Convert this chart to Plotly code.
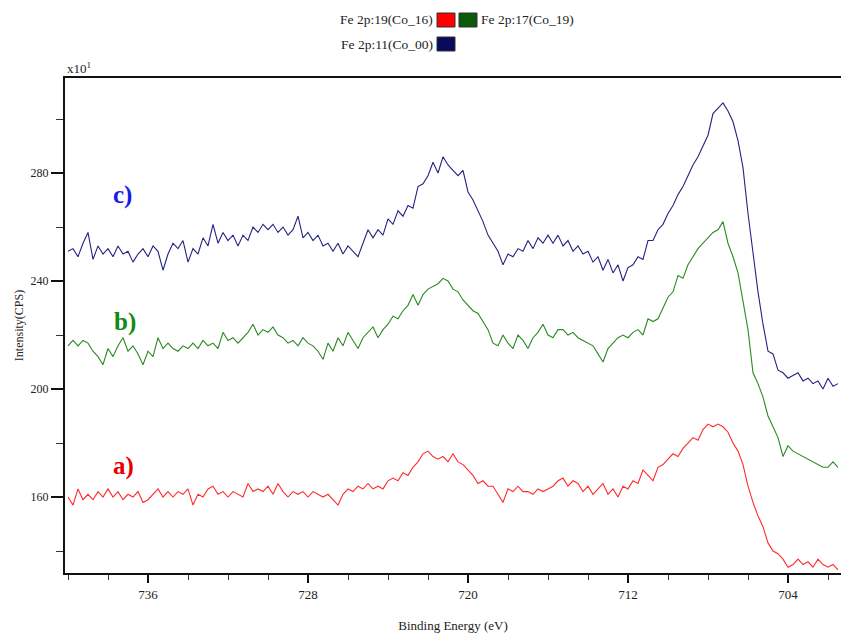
import numpy as np
import plotly.graph_objects as go

# Binding energy grid (eV), 740 -> 701.5 in 0.25 eV steps
energy = np.round(np.arange(740.0, 701.49, -0.25), 2)

# Intensities (x10^1 CPS)
curve_a = [160,157,163,159,161,159,162,160,163,160,162,159,161,160,162,158,159,161,163,160,
           162,160,162,161,163,157,161,160,163,164,161,162,160,162,161,160,165,162,163,162,
           164,161,165,162,160,162,161,162,160,162,161,160,161,159,157,161,163,162,164,163,
           165,163,164,163,166,167,166,169,168,171,173,176,177,175,174,175,173,176,173,172,
           170,168,165,166,164,164,161,158,163,162,164,162,162,161,163,162,163,164,166,167,
           164,166,165,162,164,161,163,165,161,163,160,164,163,166,165,170,168,166,171,172,
           174,176,175,178,180,182,181,185,187,186,187,186,184,180,177,172,164,158,153,149,
           143,140,139,137,134,135,137,135,136,134,137,135,134,135,133]

curve_b = [216,218,216,218,217,214,212,209,215,212,216,219,214,216,213,209,214,212,219,215,
           217,215,214,216,215,217,215,218,216,217,215,221,218,219,217,219,221,224,220,222,
           221,223,220,219,217,218,216,219,217,216,214,211,217,214,219,216,221,218,215,219,
           221,223,219,222,224,227,226,229,231,235,231,235,237,238,239,241,240,237,236,233,
           231,229,228,225,222,217,216,220,217,215,220,218,215,219,221,224,220,219,222,222,
           220,221,219,218,217,216,213,210,215,217,219,220,219,221,222,220,226,225,226,230,
           234,236,242,241,246,249,252,254,256,258,259,262,254,249,243,233,222,206,202,197,
           190,186,182,175,179,177,176,175,174,173,172,171,171,173,171]

curve_c = [251,252,249,254,258,248,253,250,252,249,253,250,251,247,250,252,249,253,251,244,
           250,254,252,255,247,252,250,256,253,261,254,258,255,257,253,257,255,260,258,261,
           259,261,258,260,257,259,264,256,258,255,257,253,254,251,254,250,253,251,249,254,
           259,256,259,257,263,261,266,264,268,267,275,276,279,284,280,286,283,281,279,281,
           273,270,266,262,257,254,251,246,250,249,252,251,255,252,256,254,257,254,257,253,
           255,251,253,250,251,247,249,244,248,243,246,240,245,246,249,248,255,255,259,261,
           265,268,272,275,279,283,286,290,294,302,304,306,303,299,292,282,265,250,236,224,
           214,213,207,206,204,205,206,203,204,202,203,200,204,201,202]

series_names = ["a)", "b)", "c)"]
series_colors = ["#ff2a2a", "#2a8a22", "#232383"]

x_ticks = [736, 728, 720, 712, 704]
y_ticks = [160, 200, 240, 280]

legend_labels = ["Fe 2p:19(Co_16)", "Fe 2p:17(Co_19)", "Fe 2p:11(Co_00)"]
legend_colors = ["#ff0000", "#0b5a0b", "#0a0a5c"]

W, H = 841, 637
L, R, T, B = 65, 841, 78, 573


def px2x(px):
    return (px - L) / (R - L)


def py2y(py):
    return (B - py) / (B - T)


FONT = "Liberation Serif, Times New Roman, serif"

fig = go.Figure()
for vals, color in zip([curve_a, curve_b, curve_c], series_colors):
    fig.add_trace(go.Scatter(x=energy, y=vals, mode="lines",
                             line=dict(color=color, width=1.1),
                             showlegend=False, hoverinfo="skip"))

fig.update_layout(
    width=W, height=H,
    margin=dict(l=L, r=W - R, t=T, b=H - B),
    paper_bgcolor="white", plot_bgcolor="white",
    font=dict(family=FONT, size=13, color="#222"),
    showlegend=False,
)

fig.update_xaxes(
    range=[740.15, 701.35],
    tickmode="array", tickvals=x_ticks, ticktext=[str(v) for v in x_ticks],
    ticks="outside", ticklen=8, tickwidth=1.5, tickcolor="#111",
    minor=dict(dtick=2, tick0=704, ticks="outside", ticklen=5, tickwidth=1.2, tickcolor="#333"),
    showline=True, linecolor="#111", linewidth=2, mirror=True,
    showgrid=False, zeroline=False,
    tickfont=dict(family=FONT, size=13, color="#222"),
    title=dict(text="Binding Energy (eV)", font=dict(family=FONT, size=13, color="#222"), standoff=20),
)
fig.update_yaxes(
    range=[131.85, 315.2],
    tickmode="array", tickvals=y_ticks, ticktext=[str(v) for v in y_ticks],
    ticks="outside", ticklen=12, tickwidth=1.5, tickcolor="#111",
    minor=dict(dtick=20, tick0=160, ticks="outside", ticklen=7, tickwidth=1.2, tickcolor="#333"),
    showline=True, linecolor="#111", linewidth=2,
    showgrid=False, zeroline=False,
    tickfont=dict(family=FONT, size=12, color="#222"),
    title=dict(text="Intensity(CPS)", font=dict(family=FONT, size=12, color="#222"), standoff=4),
)

annotations = []
# curve labels
label_pos = [(123, 466), (125, 322), (122, 195)]
label_colors = ["#e80000", "#138a13", "#1a1ae6"]
for name, (lx, ly), c in zip(series_names, label_pos, label_colors):
    annotations.append(dict(x=px2x(lx), y=py2y(ly), xref="paper", yref="paper",
                            text="<b>%s</b>" % name, showarrow=False,
                            font=dict(family=FONT, size=25, color=c),
                            xanchor="center", yanchor="middle"))
# multiplier
annotations.append(dict(x=px2x(65), y=py2y(78), xref="paper", yref="paper",
                        text="x10<sup>1</sup>", showarrow=False,
                        font=dict(family=FONT, size=13, color="#222"),
                        xanchor="left", yanchor="bottom"))

# custom legend
shapes = []
leg_items = [
    (legend_labels[0], legend_colors[0], 437, 20, "right"),
    (legend_labels[1], legend_colors[1], 459, 20, "left"),
    (legend_labels[2], legend_colors[2], 437, 44, "right"),
]
for text, color, bx, cy, side in leg_items:
    shapes.append(dict(type="rect", xref="paper", yref="paper",
                       x0=px2x(bx), x1=px2x(bx + 18), y0=py2y(cy + 7), y1=py2y(cy - 7),
                       fillcolor=color, line=dict(color="#333", width=1)))
    if side == "right":
        annotations.append(dict(x=px2x(bx - 2), y=py2y(cy), xref="paper", yref="paper",
                                text=text, showarrow=False, xanchor="right", yanchor="middle",
                                font=dict(family=FONT, size=13.5, color="#222")))
    else:
        annotations.append(dict(x=px2x(bx + 20), y=py2y(cy), xref="paper", yref="paper",
                                text=text, showarrow=False, xanchor="left", yanchor="middle",
                                font=dict(family=FONT, size=13.5, color="#222")))

fig.update_layout(annotations=annotations, shapes=shapes)

fig.write_html("out.html")
